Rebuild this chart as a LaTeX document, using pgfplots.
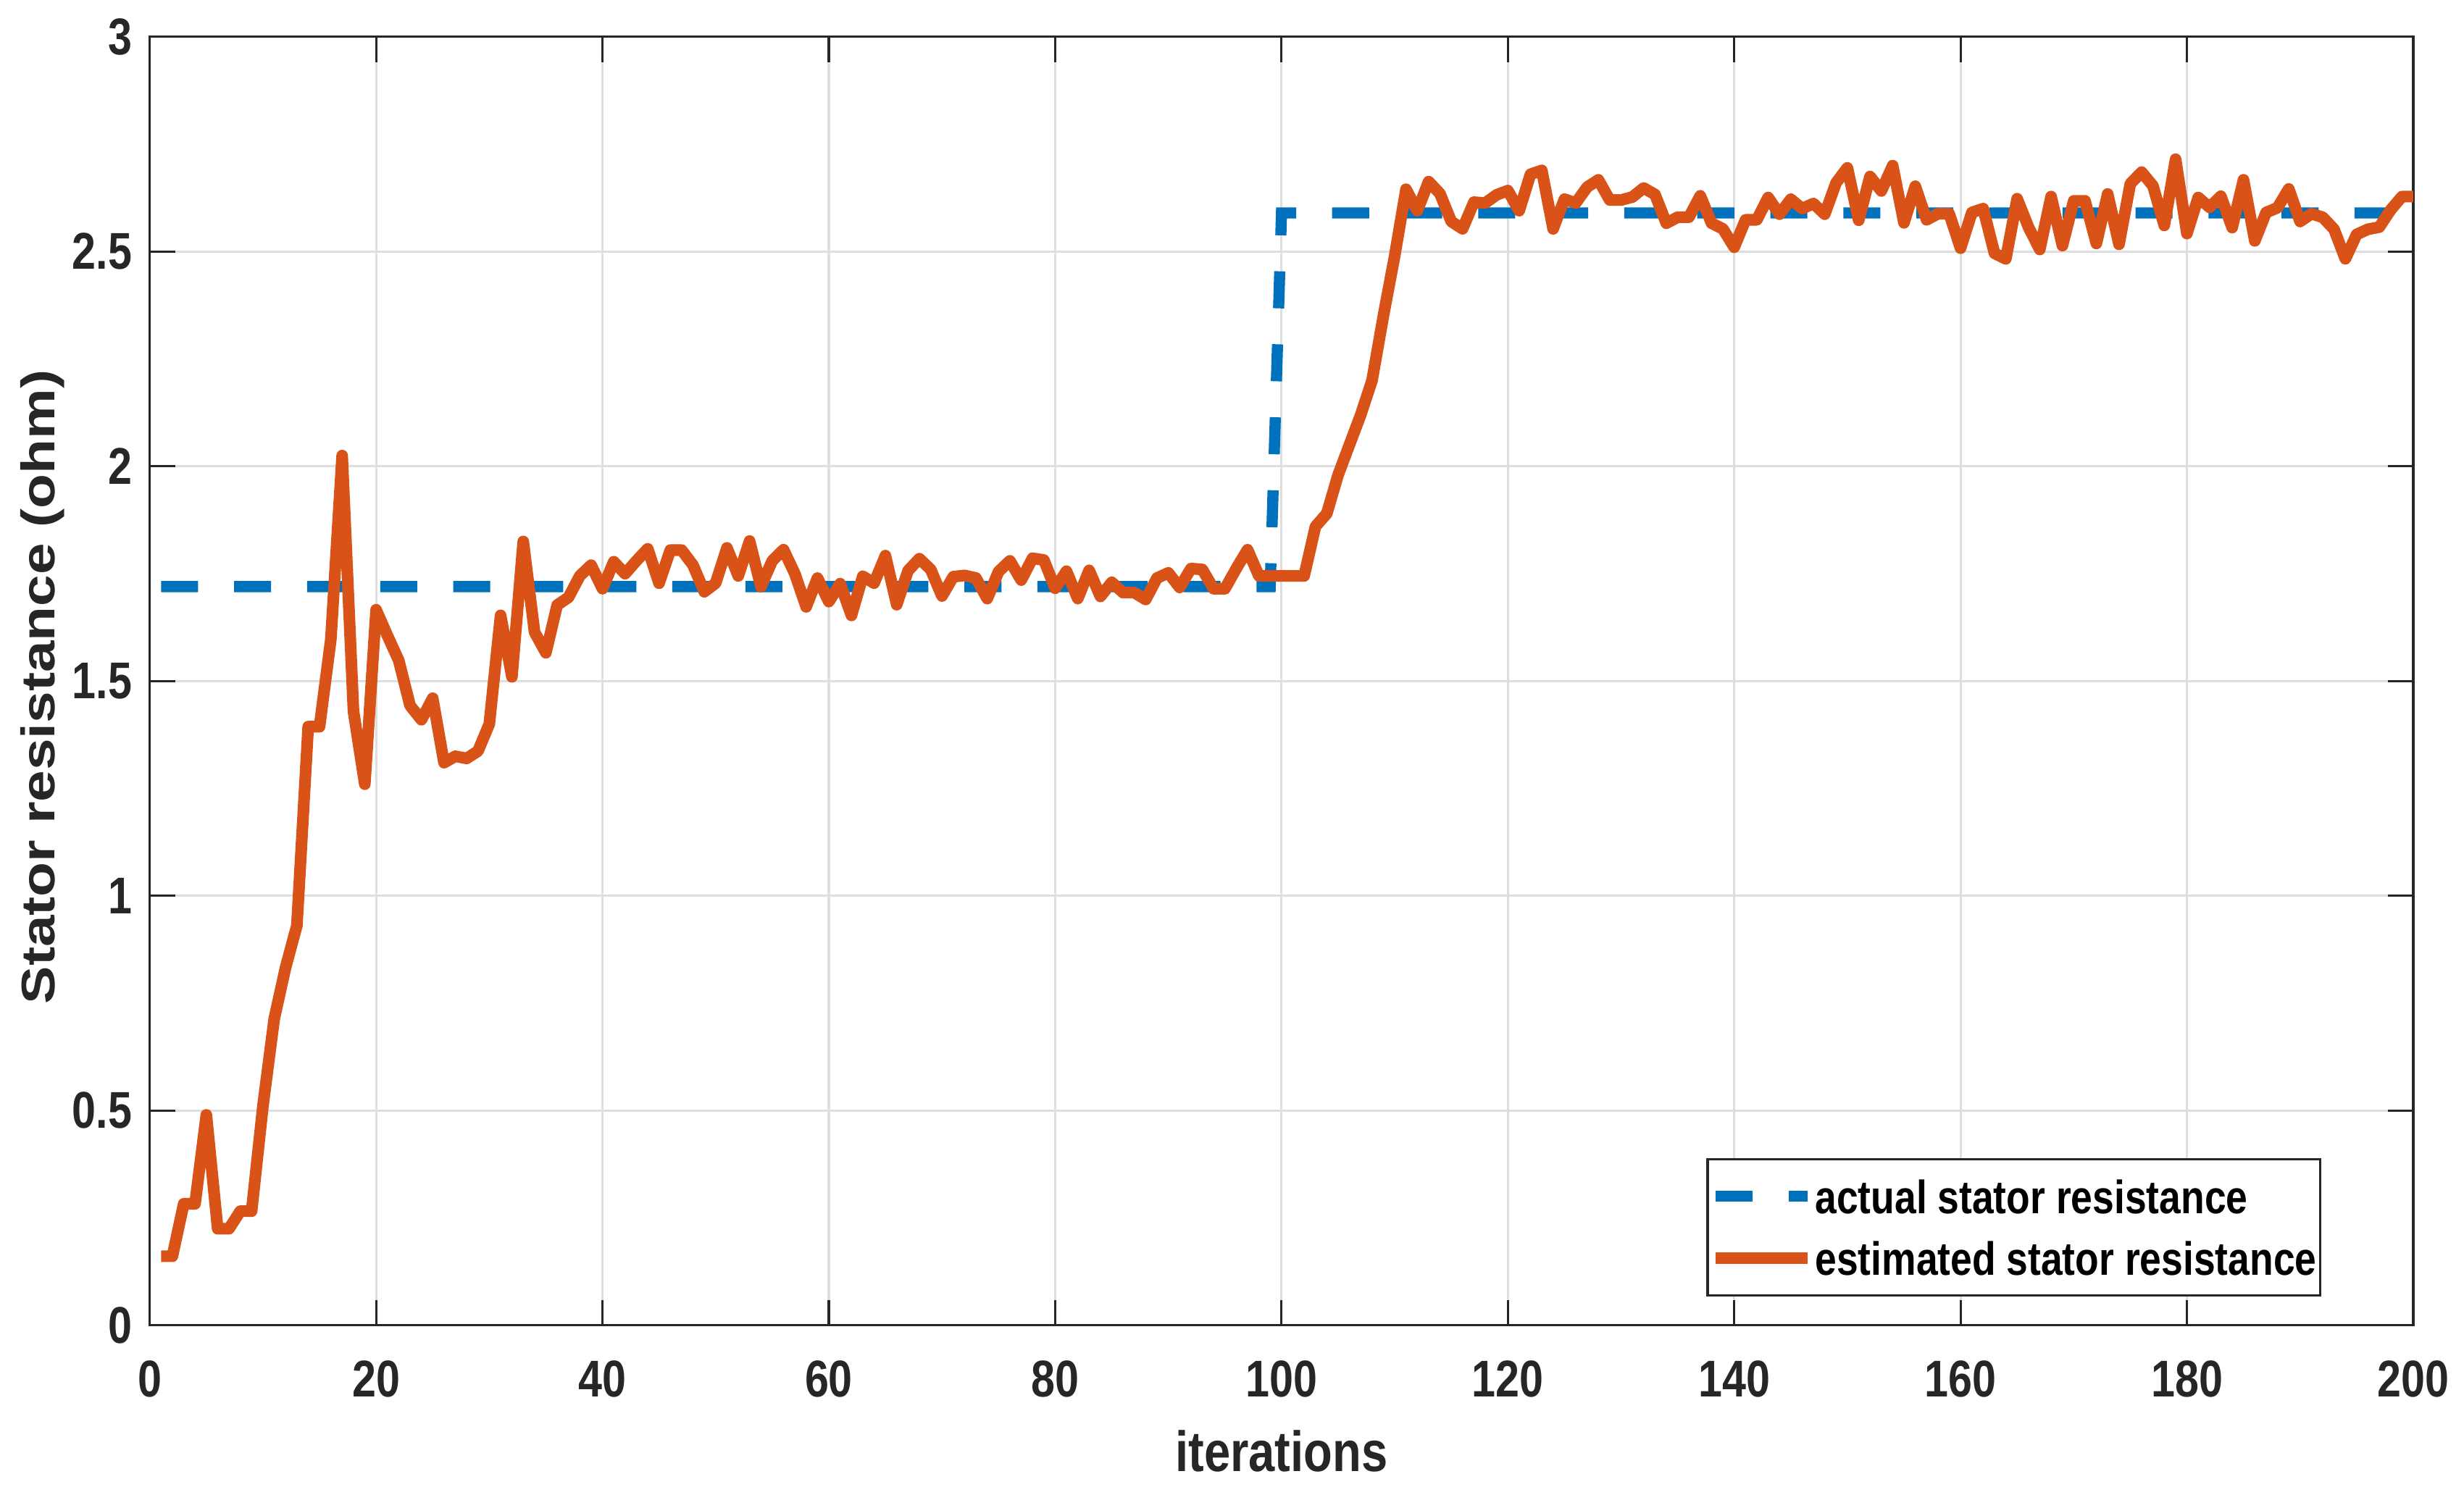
\documentclass[border=0pt]{standalone}
\usepackage{graphicx}
\usepackage{fontspec}
\setmainfont{Liberation Sans}[FakeStretch=0.83]
\newfontfamily\unstretched{Liberation Sans}
\usepackage{pgfplots}
\pgfplotsset{compat=1.18}
\usepackage{pgfplotstable}
\definecolor{mblue}{RGB}{0,114,189}
\definecolor{morange}{RGB}{217,83,25}
\definecolor{axgray}{RGB}{38,38,38}
\definecolor{gridgray}{RGB}{222,222,222}

\pgfplotstableread{
x y
1 1.72
99 1.72
100 2.59
200 2.59
}\actual

\pgfplotstableread{
x y
1 0.161
2 0.161
3 0.283
4 0.283
5 0.49
6 0.225
7 0.225
8 0.266
9 0.266
10 0.511
11 0.714
12 0.833
13 0.931
14 1.394
15 1.394
16 1.597
17 2.025
18 1.43
19 1.26
20 1.666
21 1.606
22 1.548
23 1.443
24 1.41
25 1.46
26 1.31
27 1.325
28 1.32
29 1.337
30 1.40
31 1.653
32 1.51
33 1.825
34 1.614
35 1.566
36 1.677
37 1.695
38 1.745
39 1.77
40 1.715
41 1.778
42 1.75
43 1.78
44 1.808
45 1.728
46 1.805
47 1.805
48 1.77
49 1.708
50 1.728
51 1.81
52 1.745
53 1.826
54 1.72
55 1.78
56 1.806
57 1.75
58 1.673
59 1.74
60 1.685
61 1.727
62 1.653
63 1.744
64 1.728
65 1.792
66 1.678
67 1.757
68 1.785
69 1.76
70 1.698
71 1.743
72 1.746
73 1.74
74 1.692
75 1.755
76 1.78
77 1.735
78 1.786
79 1.782
80 1.716
81 1.756
82 1.692
83 1.758
84 1.697
85 1.73
86 1.706
87 1.706
88 1.69
89 1.74
90 1.752
91 1.718
92 1.762
93 1.76
94 1.715
95 1.715
96 1.762
97 1.806
98 1.745
99 1.745
100 1.745
101 1.745
102 1.745
103 1.86
104 1.89
105 1.98
106 2.05
107 2.12
108 2.2
109 2.35
110 2.49
111 2.645
112 2.595
113 2.663
114 2.635
115 2.57
116 2.553
117 2.615
118 2.613
119 2.632
120 2.642
121 2.595
122 2.68
123 2.689
124 2.553
125 2.622
126 2.613
127 2.65
128 2.667
129 2.62
130 2.62
131 2.627
132 2.648
133 2.633
134 2.566
135 2.58
136 2.58
137 2.63
138 2.566
139 2.553
140 2.51
141 2.574
142 2.574
143 2.626
144 2.587
145 2.622
146 2.6
147 2.612
148 2.587
149 2.66
150 2.695
151 2.573
152 2.675
153 2.641
154 2.70
155 2.567
156 2.652
157 2.574
158 2.588
159 2.588
160 2.508
161 2.591
162 2.6
163 2.496
164 2.483
165 2.623
166 2.557
167 2.505
168 2.628
169 2.514
170 2.618
171 2.618
172 2.519
173 2.634
174 2.517
175 2.658
176 2.685
177 2.653
178 2.561
179 2.715
180 2.542
181 2.626
182 2.603
183 2.629
184 2.556
185 2.667
186 2.525
187 2.591
188 2.602
189 2.646
190 2.57
191 2.588
192 2.58
193 2.552
194 2.483
195 2.54
196 2.552
197 2.557
198 2.597
199 2.628
200 2.628
}\estimated

\begin{document}
\begin{tikzpicture}
\begin{axis}[
  scale only axis,
  width=446.3bp, height=254.14bp,
  xmin=0, xmax=200, ymin=0, ymax=3,
  xtick={0,20,...,200},
  ytick={0,0.5,1,1.5,2,2.5,3},
  xtick pos=both, ytick pos=both,
  xticklabel pos=lower, yticklabel pos=left,
  tick align=inside,
  major tick length=5bp,
  grid=major,
  major grid style={color=gridgray, line width=0.45bp},
  axis line style={color=axgray, line width=0.45bp},
  every tick/.style={color=axgray, line width=0.45bp},
  /pgf/number format/assume math mode=true,
  tick label style={font=\bfseries\fontsize{10.2bp}{12bp}\selectfont, text=axgray},
  xticklabel style={yshift=-3.46bp},
  label style={font=\fontsize{11.2bp}{13bp}\selectfont, text=axgray},
  xlabel={\bfseries iterations},
  xlabel style={at={(axis description cs:0.5,-0.1136)}, anchor=base},
  ylabel={\scalebox{1}[0.83]{\unstretched\bfseries Stator resistance (ohm)}},
  ylabel style={at={(axis description cs:-0.0419,0.4955)}, anchor=base, rotate=0},
  legend cell align=left,
  legend style={
    at={(axis description cs:0.9594,0.0225)}, anchor=south east,
    draw=axgray, line width=0.45bp,
    inner xsep=0.4bp, inner ysep=1.25bp,
    nodes={inner xsep=0.3bp, inner ysep=2.75bp, text depth=0pt},
    font=\bfseries\fontsize{9.2bp}{11bp}\selectfont,
  },
  legend image code/.code={\draw[#1] (0bp,0bp) -- (18.2bp,0bp);},
]
\addplot[color=mblue, line width=2.2bp, dash pattern=on 7.3bp off 7.1bp, line cap=butt] table[x=x,y=y] {\actual};
\addlegendentry{actual stator resistance\hspace{1.6bp}}
\addplot[color=morange, line width=2.3bp, line join=round] table[x=x,y=y] {\estimated};
\addlegendentry{estimated stator resistance\hspace{1.6bp}}
\end{axis}
\pgfresetboundingbox
\path ([xshift=-29.53bp,yshift=-31.86bp]current axis.south west) rectangle ([xshift=10.01bp,yshift=7.26bp]current axis.north east);
\end{tikzpicture}
\end{document}
